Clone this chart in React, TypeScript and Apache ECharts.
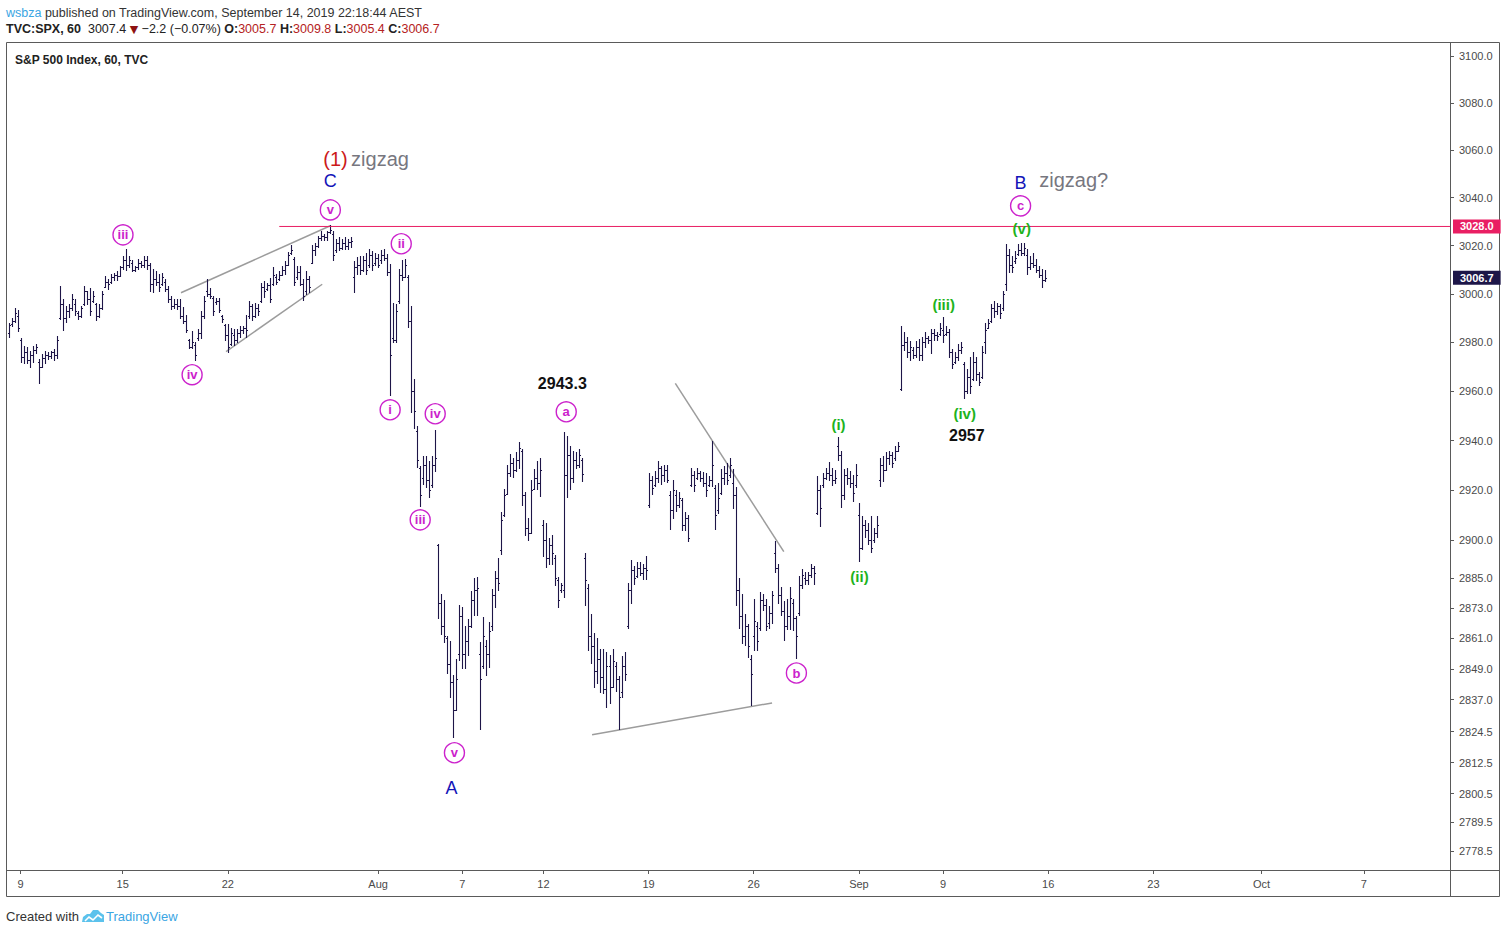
import React, { useEffect, useRef } from "react";
import * as echarts from "echarts";

// Hourly bars [open, high, low, close]
const barsJul05 = [
  [2984, 2987.8, 2982.6, 2987], [2987.5, 2990, 2987, 2989], [2989, 2994, 2988.7, 2992],
];
const barsWkJul08 = [
  [2991, 2993, 2985, 2986], [2981, 2981.5, 2972.4, 2974], [2974, 2978.5, 2971.7, 2976], [2976, 2977.8, 2971.7, 2973], [2973, 2976.4, 2970.3, 2975], [2975, 2978.5, 2972.4, 2977], [2977, 2979.2, 2975.8, 2978],
  [2972, 2973, 2963.8, 2970], [2970, 2975, 2970, 2973.5], [2973.5, 2976.4, 2972, 2975], [2975, 2975.8, 2973.5, 2974.5], [2974.5, 2976.4, 2973.8, 2976], [2976, 2977, 2973.1, 2975], [2975, 2982.6, 2973.8, 2981],
  [2990, 3003, 2989.7, 2996], [2996, 2997.6, 2985.3, 2990], [2990, 2994.8, 2988.7, 2993], [2993, 2995.5, 2990.7, 2994], [2994, 2999.6, 2993.5, 2998], [2996, 2997.6, 2991.4, 2993], [2992, 2992.8, 2990, 2991],
  [2991, 2994.8, 2990.7, 2994], [2996, 3003, 2995.5, 3001], [3001, 3001, 2996.2, 2998], [2998, 3002.3, 2991.4, 2993], [2997, 3001, 2996.9, 2999], [2996, 2996.2, 2989.4, 2991], [2991, 2995.5, 2990.7, 2994],
  [2994, 3001, 2994, 3000], [3003, 3007.2, 3003, 3005], [3005, 3006.1, 3002.1, 3004], [3005, 3007.9, 3004.9, 3007], [3007, 3008.6, 3005.8, 3008], [3008, 3009.3, 3005.8, 3007.5], [3007.5, 3011.4, 3007.5, 3011],
];
const barsWkJul15 = [
  [3011, 3015.3, 3010.7, 3014], [3014, 3018.3, 3010.3, 3012], [3012, 3015.6, 3011.4, 3014], [3013, 3013.8, 3009.7, 3010], [3010, 3011.4, 3009.7, 3011], [3011, 3014.2, 3010.7, 3013], [3013, 3013.5, 3011.4, 3012],
  [3012, 3015.6, 3011.4, 3014], [3014, 3015.3, 3010.7, 3012], [3012, 3012.5, 3001.6, 3004], [3004, 3010, 3001, 3006], [3006, 3009.3, 3003.7, 3005], [3005, 3007.9, 3001.6, 3003], [3004, 3008.6, 3003.7, 3007],
  [3005, 3005.8, 3001.6, 3002], [3002, 3003, 2996.9, 2998], [2998, 2998.9, 2994.1, 2995], [2995, 2997.6, 2994.5, 2996], [2996, 2997.6, 2994.1, 2995], [2995, 2997.6, 2990.3, 2991], [2991, 2994.5, 2988.2, 2989],
  [2989, 2991.1, 2984.6, 2985], [2981, 2981.2, 2977.8, 2978], [2978, 2984.5, 2977.8, 2980], [2979, 2980, 2973.1, 2975], [2982, 2985.3, 2981.2, 2984], [2984, 2992.8, 2982, 2991], [2991, 2998.9, 2990.3, 2997],
  [3001, 3005.8, 2999.2, 3000], [3000, 3002.3, 2998.5, 2999], [2998.5, 2998.9, 2991.4, 2993], [2996.5, 2998.2, 2996.2, 2997], [2997, 2998.2, 2992.8, 2993.5], [2991, 2991.1, 2988.8, 2989.5], [2987, 2987.2, 2981.2, 2983],
];
const barsWkJul22 = [
  [2983, 2987.2, 2976.4, 2978], [2979.5, 2985.9, 2979.2, 2984], [2983, 2985.3, 2979.2, 2981], [2981, 2985.3, 2980.5, 2984], [2984, 2986.6, 2982.6, 2985], [2985, 2986.7, 2984, 2986], [2986, 2991, 2982.6, 2985],
  [2991, 2996.9, 2990.1, 2995], [2995, 2995.5, 2989.4, 2991], [2991, 2996.2, 2990.7, 2994], [2994, 2995.5, 2991.4, 2993], [2997, 3004.4, 2996.9, 3003], [3003, 3005.1, 2999, 3001], [3002, 3004.4, 3001.7, 3003.5],
  [3003.5, 3006.5, 2996.9, 2998], [3004, 3011.1, 3003.7, 3008], [3007, 3007.9, 3004.4, 3005], [3006, 3009.3, 3005.8, 3008], [3008, 3011.4, 3007.9, 3010], [3010, 3013.5, 3008.6, 3012], [3012.1, 3017, 3012.1, 3016],
  [3017, 3020, 3016.9, 3018], [3014.5, 3014.9, 3003.7, 3005], [3007, 3011.4, 3006.5, 3009], [3009, 3011.4, 3003.7, 3004], [3004, 3005.8, 2997.6, 2999], [3001, 3009.3, 3000.3, 3006], [3006, 3007.2, 3001, 3003],
  [3013, 3020, 3012.8, 3018], [3018, 3021.1, 3016.2, 3020], [3020, 3023.9, 3019.8, 3023], [3023, 3025.9, 3022.5, 3024], [3024, 3024.6, 3022.5, 3023.5], [3023.5, 3026, 3022.5, 3025.5], [3025.5, 3028.3, 3025.5, 3026.5],
];
const barsWkJul29 = [
  [3025, 3026, 3014.2, 3016], [3018, 3022.5, 3017.6, 3021], [3021, 3023.2, 3018.3, 3019], [3019, 3022.5, 3019, 3021], [3021, 3023.2, 3019, 3020], [3020, 3022.5, 3019, 3021.5], [3021.5, 3023.2, 3019.6, 3022],
  [3007, 3013.5, 3001, 3011], [3011, 3014.9, 3008.6, 3012], [3012, 3015.6, 3008.6, 3010], [3010, 3015.6, 3009.8, 3014], [3014, 3016.9, 3008.6, 3010], [3012, 3018.3, 3011.4, 3016], [3016, 3017.6, 3010, 3012],
  [3013, 3016.9, 3012.1, 3015], [3015, 3016.2, 3011.4, 3012], [3014, 3017.8, 3013, 3016], [3016, 3018.3, 3014.2, 3015], [3015, 3016.2, 3007.9, 3009], [3009, 3012.1, 2958.8, 2975], [2982, 2996, 2980.5, 2981],
  [2981, 2995.5, 2980.5, 2993], [2997, 3010, 2996.5, 3008], [3008, 3013.9, 3005.8, 3007], [3007, 3014.2, 3007, 3012], [3007, 3007.5, 2986.7, 2989], [2989, 2994.8, 2952, 2960], [2960, 2964.9, 2945.2, 2952],
  [2944, 2945.8, 2929.5, 2932], [2929, 2929.5, 2914, 2918], [2925, 2933.6, 2922.7, 2930], [2930, 2933.6, 2921.4, 2924], [2924, 2931.6, 2917.3, 2920], [2922, 2933.6, 2921.4, 2930], [2930, 2944.2, 2928, 2933],
];
const barsWkAug05 = [
  [2898, 2898.4, 2869.3, 2875], [2875, 2878.4, 2863, 2866], [2866, 2876, 2859.6, 2862], [2861, 2861.9, 2847.5, 2851], [2851, 2859.6, 2838.3, 2844], [2844, 2846.5, 2822.7, 2833], [2833, 2852.7, 2833, 2845],
  [2855, 2874, 2852.7, 2870], [2870, 2873.3, 2849.5, 2855], [2855, 2865.8, 2849.5, 2860], [2860, 2868.5, 2854.8, 2866], [2866, 2879.5, 2865.8, 2876], [2876, 2884.9, 2870.5, 2880], [2880, 2885.1, 2870.5, 2881],
  [2855, 2859.3, 2825.9, 2845], [2850, 2869.1, 2849.4, 2862], [2858, 2860.2, 2846.8, 2855], [2855, 2867.3, 2850, 2864], [2866, 2880.3, 2864.5, 2878], [2878, 2887.6, 2873.7, 2885], [2885, 2892.5, 2880.5, 2883],
  [2896, 2910.9, 2894.7, 2908], [2910, 2920.3, 2910, 2918], [2918.5, 2929.9, 2918.5, 2927], [2927, 2934.3, 2926.1, 2931], [2931, 2932.9, 2925.4, 2928], [2928, 2935, 2928, 2932], [2932, 2939.1, 2929, 2937],
  [2936, 2936.4, 2914.3, 2918], [2918, 2918.9, 2902.4, 2905], [2905, 2908.7, 2900.3, 2903], [2903, 2924.1, 2903, 2920], [2920.6, 2928.2, 2920.6, 2925], [2925, 2931.6, 2920.6, 2923], [2923, 2932.9, 2918, 2928],
];
const barsWkAug12 = [
  [2906, 2908, 2894, 2900], [2900, 2906.6, 2889.5, 2893], [2893, 2900.7, 2890.8, 2898], [2898, 2902, 2890.8, 2895], [2893, 2894, 2882.2, 2885], [2884, 2885, 2873.7, 2876], [2880, 2882.8, 2879.5, 2882],
  [2880, 2943.3, 2877.6, 2926], [2926, 2941.8, 2917.3, 2934], [2934, 2937.7, 2920.6, 2925], [2925, 2935.7, 2923.4, 2932], [2932, 2935.1, 2929, 2930], [2930, 2936.4, 2929.6, 2934], [2932, 2932.9, 2924.1, 2926.6],
  [2893, 2894.7, 2874.4, 2884], [2881, 2882.2, 2856.7, 2862], [2862, 2870.3, 2851.4, 2858], [2858, 2863.1, 2842.2, 2848], [2848, 2860.8, 2843.5, 2853], [2853, 2856.7, 2840.3, 2846], [2846, 2856.7, 2839.7, 2841],
  [2841, 2855.4, 2834.4, 2850], [2850, 2854.1, 2835.7, 2842], [2842, 2856.7, 2842, 2852], [2850, 2851.5, 2840.4, 2845], [2845, 2846.2, 2825.9, 2838], [2840, 2853.8, 2838.3, 2850], [2850, 2855.4, 2845, 2847],
  [2866, 2882.9, 2865.2, 2880], [2880, 2891.8, 2875, 2888], [2888, 2889.6, 2882.9, 2885], [2885.5, 2891, 2885.5, 2889], [2889, 2891, 2886.2, 2887], [2887, 2890.2, 2884.9, 2889], [2889, 2893.4, 2884.9, 2888],
];
const barsWkAug19 = [
  [2914, 2926.8, 2913.3, 2924], [2924, 2925.7, 2918.7, 2921], [2922, 2927.5, 2921.9, 2925], [2925, 2931.6, 2923.4, 2929], [2929, 2929.5, 2922.7, 2926], [2926, 2929.8, 2924.1, 2928], [2928, 2929.8, 2923.4, 2924],
  [2918, 2919.3, 2904.7, 2912], [2912, 2924.1, 2909, 2920], [2918, 2920, 2911.9, 2914], [2914, 2918.9, 2913.3, 2917], [2916, 2916.6, 2904.3, 2906], [2906, 2910.9, 2904.3, 2909], [2909, 2910, 2900, 2901],
  [2922, 2928.8, 2921.9, 2926], [2926, 2927.5, 2920, 2922], [2925, 2928.8, 2924.8, 2927], [2927, 2927.5, 2924.1, 2925], [2925, 2927.1, 2921.9, 2923], [2923, 2926.8, 2918, 2920], [2922, 2925.4, 2921.9, 2924],
  [2924, 2939.7, 2921.9, 2930], [2921, 2921.9, 2904.7, 2910], [2912, 2922.7, 2911.2, 2917], [2919, 2928.2, 2918.6, 2925], [2925, 2929.5, 2922.7, 2927], [2927, 2930.9, 2922.7, 2924], [2926, 2932.9, 2925.4, 2930],
  [2923, 2928.2, 2913, 2918], [2918, 2921, 2874.4, 2880], [2880, 2884.9, 2865.2, 2870], [2870, 2878.3, 2859.3, 2862], [2862, 2870.5, 2858.6, 2866], [2866, 2866.5, 2853.8, 2858], [2853, 2854.1, 2835, 2847],
];
const barsWkAug26 = [
  [2862, 2876.3, 2856.7, 2868], [2866, 2867.2, 2856.7, 2860], [2865, 2879, 2864.5, 2876], [2876, 2878.3, 2872.4, 2874], [2874, 2876.3, 2864.5, 2866], [2867, 2873.7, 2865.2, 2871], [2871, 2879.7, 2867.2, 2878],
  [2895, 2899.3, 2887.5, 2889], [2889, 2890.4, 2875.3, 2878], [2878, 2881, 2870.5, 2872], [2872, 2875.7, 2860.6, 2866], [2866, 2876.2, 2865, 2870], [2870, 2881.3, 2865, 2877], [2875, 2876.3, 2864.5, 2869],
  [2869, 2869.8, 2853.4, 2862], [2871, 2885.5, 2870.5, 2882], [2882, 2888.2, 2881, 2886], [2885, 2886.9, 2882.9, 2884], [2884, 2886.9, 2882.9, 2886], [2886, 2890.2, 2885.5, 2889], [2889, 2889.6, 2882.9, 2887],
  [2911, 2925.4, 2910.7, 2920], [2920, 2922, 2906, 2913], [2922, 2926.8, 2921.3, 2925], [2925, 2928.8, 2924.7, 2927], [2927, 2931.3, 2924.3, 2926], [2926, 2928.8, 2922.4, 2924], [2924, 2927.8, 2923.2, 2925],
  [2938, 2941.3, 2932.4, 2934], [2934, 2935.7, 2913.3, 2918], [2918, 2928.2, 2916.6, 2926], [2926, 2928.9, 2922.7, 2925], [2925, 2927.5, 2921.3, 2923], [2923, 2926.1, 2916, 2919], [2922, 2930.2, 2921.3, 2926],
];
const barsWkSep03 = [
  [2910, 2914.7, 2892, 2897], [2897, 2909.3, 2896.7, 2906], [2906, 2907.8, 2901.5, 2904], [2904, 2906.7, 2898.7, 2900], [2900, 2909.3, 2895.3, 2897], [2900, 2904.7, 2899.3, 2903], [2903, 2909.3, 2901.5, 2906],
  [2924, 2932.6, 2922, 2930], [2930, 2933.6, 2924.1, 2928], [2928.2, 2935, 2928.2, 2933], [2933, 2935.7, 2930.8, 2934], [2934, 2935, 2929.6, 2931], [2933, 2937.7, 2932.4, 2936], [2936, 2939.3, 2936, 2938],
  [2961, 2986.7, 2960.8, 2979], [2979, 2983.9, 2977.1, 2980], [2980, 2981.9, 2974.4, 2976], [2976, 2980.5, 2973.1, 2978], [2977, 2977.8, 2973.8, 2975], [2975, 2980.5, 2974.4, 2978], [2978, 2981.2, 2973.1, 2975],
  [2975, 2981.9, 2973.1, 2980], [2980, 2983.9, 2978.5, 2982], [2982, 2982.6, 2979.8, 2981], [2981, 2985.3, 2975.8, 2984], [2984, 2985.3, 2981.2, 2983], [2983, 2984.1, 2981.2, 2982.5], [2983.3, 2988, 2983.3, 2986],
];
const barsWkSep09 = [
  [2985, 2990.1, 2980.5, 2983], [2983.3, 2986.7, 2983.3, 2984.5], [2984.5, 2985.3, 2974.4, 2976], [2976, 2977.1, 2969.6, 2971], [2972, 2975.8, 2971.7, 2974], [2974, 2979.2, 2973.1, 2977], [2977, 2979.8, 2975.8, 2978],
  [2971, 2972, 2957.4, 2960], [2960, 2969, 2959.6, 2966], [2966, 2973.8, 2959.6, 2962], [2965, 2975.8, 2964.9, 2972], [2972, 2973.8, 2964.9, 2967], [2967, 2967.6, 2962.9, 2964], [2966, 2978.5, 2965.6, 2976],
  [2980, 2988, 2975.8, 2985], [2986, 2989.4, 2986, 2988], [2989, 2995.5, 2988.6, 2994], [2994, 2996.9, 2990.8, 2993], [2993, 2996.2, 2992.1, 2995], [2995, 2995.5, 2990.1, 2992], [2994, 3001, 2993.5, 3000],
  [3004, 3020.3, 3001.7, 3016], [3016, 3018.3, 3009.3, 3012], [3012, 3015.6, 3009.3, 3011], [3013.5, 3017.6, 3013, 3015], [3016.5, 3020.5, 3016.2, 3018], [3018, 3021.1, 3016.2, 3017], [3017, 3021.1, 3016.2, 3019],
  [3016, 3018.3, 3008.6, 3011], [3011, 3015.6, 3010.7, 3013], [3013, 3016.9, 3011.4, 3012], [3012, 3014.2, 3009.3, 3010], [3010, 3011.4, 3007.2, 3008], [3008, 3010, 3003.1, 3005.7], [3005.7, 3009.8, 3005.4, 3006.7],
];

// x-axis date ticks (bar index, text)
const xTickIndex = [4, 38, 73, 123, 151, 178, 213, 248, 283, 311, 346, 381, 417, 451];
const xTickText = ["9", "15", "22", "Aug", "7", "12", "19", "26", "Sep", "9", "16", "23", "Oct", "7"];
const xMaxIndex = 479.7;

// price-axis ticks
const yTickValues = [3100, 3080, 3060, 3040, 3020, 3000, 2980, 2960, 2940, 2920, 2900, 2885, 2873, 2861, 2849, 2837, 2824.5, 2812.5, 2800.5, 2789.5, 2778.5];
const yMin = 2771.2;
const yMax = 3105.9;

// horizontal level and last price
const resistanceLevel = 3028;
const resistanceStartIndex = 90.1;
const lastPrice = 3006.7;
const lastBarIndex = 345;

// trend lines [[index, price], [index, price]]
const trendLines = [
  [[57.4, 3000.5], [107.1, 3028.3]],
  [[72.4, 2976.3], [104.4, 3004.0]],
  [[221.9, 2963.3], [258.0, 2895.4]],
  [[194.2, 2823.3], [254.1, 2835.7]],
];

// wave labels [text, index, price]
const circledLabels = [
  ["iii", 38.1, 3024.5], ["iv", 61.1, 2966.8], ["v", 107.1, 3034.9],
  ["ii", 130.7, 3020.8], ["i", 127.0, 2952.5], ["iv", 142.0, 2950.9],
  ["iii", 137.0, 2908.1], ["v", 148.4, 2816.3],
  ["a", 185.6, 2951.7], ["b", 262.2, 2847.4], ["c", 336.8, 3036.6],
];
const greenLabels = [
  ["(i)", 276.2, 2946.4], ["(ii)", 283.2, 2885.4], ["(iii)", 311.2, 2995.5],
  ["(iv)", 318.2, 2950.9], ["(v)", 337.2, 3027.0],
];
const blueLabels = [["C", 107.1, 3047.1], ["A", 147.4, 2802.7], ["B", 336.8, 3046.2]];
const priceNotes = [["2943.3", 184.3, 2963.1], ["2957", 318.9, 2941.9]];
const grayNotes = [["{r|(1)} {g|zigzag}", 119.0, 3056.3], ["{g|zigzag?}", 354.5, 3047.5]];

const FONT = '"Liberation Sans", Arial, sans-serif';
const BAR_COLOR = "#1e1548";
const MAGENTA = "#cc22cc";
const GREEN = "#1db31d";
const BLUE = "#1414b8";
const PINK = "#e91e63";
const FRAME = "#5a5a5a";

const allBars = [
  ...barsJul05, ...barsWkJul08, ...barsWkJul15, ...barsWkJul22, ...barsWkJul29,
  ...barsWkAug05, ...barsWkAug12, ...barsWkAug19, ...barsWkAug26, ...barsWkSep03, ...barsWkSep09,
];

function renderOhlc(params: any, api: any) {
  const idx = api.value(0);
  const pO = api.coord([idx, api.value(1)]);
  const pH = api.coord([idx, api.value(2)]);
  const pL = api.coord([idx, api.value(3)]);
  const pC = api.coord([idx, api.value(4)]);
  const x = Math.round(pH[0]) + 0.5;
  const yO = Math.round(pO[1]) + 0.5;
  const yC = Math.round(pC[1]) + 0.5;
  const style = { stroke: BAR_COLOR, lineWidth: 1.1 };
  return {
    type: "group",
    children: [
      { type: "line", shape: { x1: x, y1: Math.floor(pH[1]), x2: x, y2: Math.ceil(pL[1]) + 1 }, style },
      { type: "line", shape: { x1: x - 1.5, y1: yO, x2: x, y2: yO }, style },
      { type: "line", shape: { x1: x, y1: yC, x2: x + 1.5, y2: yC }, style },
    ],
  };
}

function textSeries(items: any[], label: any, z = 6) {
  return {
    type: "scatter",
    silent: true,
    z,
    symbolSize: 0,
    itemStyle: { opacity: 1 },
    data: items.map((d) => ({ name: d[0], value: [d[1], d[2]] })),
    label: { show: true, position: "inside", formatter: (p: any) => p.name, fontFamily: FONT, ...label },
  };
}

export default function App() {
  const ref = useRef<HTMLDivElement>(null);
  useEffect(() => {
    if (!ref.current) return;
    const chart = echarts.init(ref.current, null, { renderer: "svg" });
    const series: any[] = [
      {
        type: "custom",
        name: "SPX",
        renderItem: renderOhlc,
        dimensions: ["i", "o", "h", "l", "c"],
        encode: { x: 0, y: [1, 2, 3, 4] },
        data: allBars.map((b, i) => [i, ...b]),
        silent: true,
        z: 3,
      },
      ...trendLines.map((seg) => ({
        type: "line",
        data: seg,
        symbol: "none",
        silent: true,
        z: 2,
        lineStyle: { color: "#9c9c9c", width: 1.5 },
      })),
      {
        type: "line",
        data: [[resistanceStartIndex, resistanceLevel], [xMaxIndex, resistanceLevel]],
        symbol: "none",
        silent: true,
        clip: false,
        z: 4,
        lineStyle: { color: PINK, width: 1 },
        endLabel: {
          show: true,
          formatter: () => resistanceLevel.toFixed(1),
          distance: 3,
          color: "#fff",
          backgroundColor: PINK,
          padding: [2, 7, 1, 7],
          fontFamily: FONT,
          fontSize: 11,
          fontWeight: "bold",
        },
      },
      {
        type: "line",
        data: [[lastBarIndex, lastPrice], [xMaxIndex, lastPrice]],
        symbol: "none",
        silent: true,
        clip: false,
        z: 4,
        lineStyle: { opacity: 0 },
        endLabel: {
          show: true,
          formatter: () => lastPrice.toFixed(1),
          distance: 3,
          color: "#fff",
          backgroundColor: "#1d1648",
          padding: [2, 7, 1, 7],
          fontFamily: FONT,
          fontSize: 11,
          fontWeight: "bold",
        },
      },
      {
        type: "scatter",
        silent: true,
        z: 6,
        symbol: "circle",
        symbolSize: 20,
        itemStyle: { color: "#ffffff", borderColor: MAGENTA, borderWidth: 1.4, opacity: 1 },
        data: circledLabels.map((d) => ({ name: d[0], value: [d[1], d[2]] })),
        label: {
          show: true,
          position: "inside",
          formatter: (p: any) => p.name,
          color: MAGENTA,
          fontFamily: FONT,
          fontSize: 13,
          fontWeight: "bold",
        },
      },
      textSeries(greenLabels, { color: GREEN, fontSize: 15, fontWeight: "bold" }),
      textSeries(blueLabels, { color: BLUE, fontSize: 18 }),
      textSeries(priceNotes, { color: "#111", fontSize: 16, fontWeight: "bold" }),
      textSeries(grayNotes, {
        rich: {
          r: { color: "#cc1a1a", fontSize: 20, fontFamily: FONT },
          g: { color: "#77777f", fontSize: 20, fontFamily: FONT },
        },
      }),
    ];

    chart.setOption({
      animation: false,
      backgroundColor: "#ffffff",
      grid: { left: 7, right: 57, top: 42, bottom: 64, containLabel: false, outerBoundsMode: "none" },
      xAxis: {
        type: "value",
        min: -0.5,
        max: xMaxIndex,
        axisLine: { show: false, onZero: false },
        splitLine: { show: false },
        axisTick: { show: true, customValues: xTickIndex, length: 4, lineStyle: { color: FRAME } },
        axisLabel: {
          customValues: xTickIndex,
          formatter: (v: number) => xTickText[xTickIndex.indexOf(Math.round(v))] ?? "",
          color: "#4a4a4a",
          fontFamily: FONT,
          fontSize: 11,
          margin: 8,
        },
      },
      yAxis: {
        type: "log",
        position: "right",
        min: yMin,
        max: yMax,
        axisLine: { show: false, onZero: false },
        splitLine: { show: false },
        axisTick: { show: true, customValues: yTickValues, length: 4, lineStyle: { color: FRAME } },
        axisLabel: {
          customValues: yTickValues,
          formatter: (v: number) => Number(v).toFixed(1),
          color: "#4a4a4a",
          fontFamily: FONT,
          fontSize: 11,
          margin: 9,
        },
      },
      series,
      graphic: [
        { type: "rect", silent: true, shape: { x: 6.5, y: 42.5, width: 1493, height: 854 }, style: { fill: "none", stroke: FRAME, lineWidth: 1 } },
        { type: "line", silent: true, shape: { x1: 6.5, y1: 870.5, x2: 1499.5, y2: 870.5 }, style: { stroke: FRAME, lineWidth: 1 } },
        { type: "line", silent: true, shape: { x1: 1450.5, y1: 42.5, x2: 1450.5, y2: 896.5 }, style: { stroke: FRAME, lineWidth: 1 } },
        {
          type: "text", silent: true, x: 6, y: 13,
          style: {
            text: "{b|wsbza} published on TradingView.com, September 14, 2019 22:18:44 AEST",
            fill: "#333", fontSize: 12.5, fontFamily: FONT, verticalAlign: "middle",
            rich: { b: { fill: "#3aa5e3", fontSize: 12.5, fontFamily: FONT } },
          },
        },
        {
          type: "text", silent: true, x: 6, y: 29,
          style: {
            text: "{k|TVC:SPX, 60}  3007.4 {t|▼} −2.2 (−0.07%) {k|O:}{r|3005.7} {k|H:}{r|3009.8} {k|L:}{r|3005.4} {k|C:}{r|3006.7}",
            fill: "#222", fontSize: 12.5, fontFamily: FONT, verticalAlign: "middle",
            rich: {
              k: { fill: "#222", fontWeight: "bold", fontSize: 12.5, fontFamily: FONT },
              r: { fill: "#b52222", fontSize: 12.5, fontFamily: FONT },
              t: { fill: "#8e1212", fontSize: 11, fontFamily: '"DejaVu Sans", sans-serif' },
            },
          },
        },
        {
          type: "text", silent: true, x: 15, y: 60,
          style: { text: "S&P 500 Index, 60, TVC", fill: "#222", fontSize: 12, fontWeight: "bold", fontFamily: FONT, verticalAlign: "middle" },
        },
        {
          type: "text", silent: true, x: 6, y: 916,
          style: { text: "Created with", fill: "#333", fontSize: 13, fontFamily: FONT, verticalAlign: "middle" },
        },
        {
          type: "polygon", silent: true,
          shape: { points: [[82, 922], [83, 917], [87, 914], [90, 914], [93, 910], [98, 910], [101, 913], [104, 915], [104, 922]] },
          style: { fill: "#5cc2ec" },
        },
        {
          type: "polyline", silent: true,
          shape: { points: [[85, 921], [89, 917], [93, 920], [98, 915], [102, 918]] },
          style: { stroke: "#ffffff", lineWidth: 1.6, fill: "none" },
        },
        {
          type: "text", silent: true, x: 106, y: 916,
          style: { text: "TradingView", fill: "#3aa5e3", fontSize: 13, fontFamily: FONT, verticalAlign: "middle" },
        },
      ],
    });
    return () => chart.dispose();
  }, []);

  return (
    <div
      ref={ref}
      style={{ position: "fixed", left: 0, top: 0, width: 1507, height: 934, background: "#fff" }}
    />
  );
}
